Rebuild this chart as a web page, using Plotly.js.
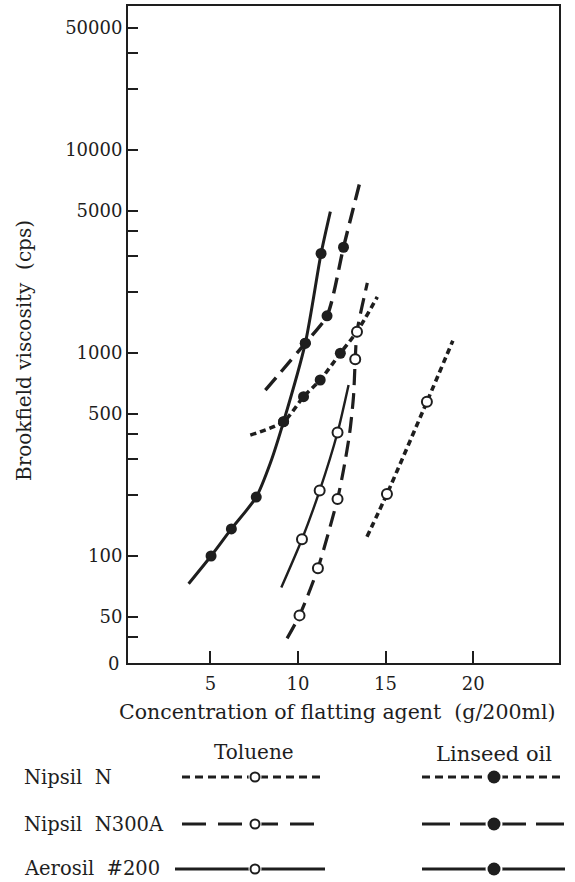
<!DOCTYPE html>
<html>
<head>
<meta charset="utf-8">
<script src="https://cdn.plot.ly/plotly-3.0.1.min.js"></script>
<style>html,body{margin:0;padding:0;background:#fff;}#chart{width:575px;height:882px;}</style>
</head>
<body>
<div id="chart"></div>
<script>
// ---- Data (x: g/200ml, y: cps) ----
// Aerosil #200 in linseed oil (solid, filled)
const aeroLinX = [5.04, 6.2, 7.62, 9.18, 10.42, 11.32];
const aeroLinY = [100, 136, 195, 459, 1118, 3090];
const aeroLinCurveX = [3.76, 5.04, 6.2, 7.62, 8.42, 9.18, 10.42, 11.32, 11.85];
const aeroLinCurveY = [73, 100, 136, 195, 286, 459, 1118, 3090, 4970];

// Nipsil N300A in linseed oil (long dash, filled)
const n300LinX = [10.42, 11.66, 12.6];
const n300LinY = [1118, 1525, 3317];
const n300LinCurveX = [8.14, 10.42, 11.66, 12.6, 13.52];
const n300LinCurveY = [656, 1118, 1525, 3317, 6855];

// Nipsil N in linseed oil (short dash, filled)
const nLinX = [9.18, 10.32, 11.27, 12.42];
const nLinY = [459, 609, 736, 997];
const nLinCurveX = [7.28, 9.18, 10.32, 11.27, 12.42, 13.37, 14.53];
const nLinCurveY = [394, 459, 609, 736, 997, 1274, 1888];

// Aerosil #200 in toluene (solid, open)
const aeroTolX = [10.23, 11.24, 12.26];
const aeroTolY = [121, 210, 406];
const aeroTolCurveX = [9.05, 10.23, 11.24, 12.26, 12.89];
const aeroTolCurveY = [70, 121, 210, 406, 696];

// Nipsil N300A in toluene (long dash, open)
const n300TolX = [10.09, 11.14, 12.26, 13.27, 13.37];
const n300TolY = [51, 87, 191, 931, 1272];
const n300TolCurveX = [9.38, 10.09, 11.14, 12.26, 12.6, 12.95, 13.17, 13.27, 13.37, 13.96];
const n300TolCurveY = [39.3, 51, 87, 191, 265, 402, 609, 931, 1272, 2213];

// Nipsil N in toluene (short dash, open)
const nTolX = [15.08, 17.36];
const nTolY = [202, 575];
const nTolCurveX = [13.94, 15.08, 17.36, 18.84];
const nTolCurveY = [124.5, 202, 575, 1149];

// Axis ticks (top tick sits where the reference draws its "50000" mark)
const xTickVals = [5, 10, 15, 20];
const yTickVals = [40, 50, 100, 200, 300, 400, 500, 1000, 2000, 3000, 4000, 5000, 10000, 20000, 30000, 40000];
const yTickText = [' ', '50', '100', ' ', ' ', ' ', '500', '1000', ' ', ' ', ' ', '5000', '10000', ' ', ' ', '50000'];

// Text
const xTitle = 'Concentration of flatting agent\u00a0\u00a0(g/200ml)';
const yTitle = 'Brookfield viscosity\u00a0\u00a0(cps)';
const solvents = ['Toluene', 'Linseed oil'];
const agents = ['Nipsil\u00a0\u00a0N', 'Nipsil\u00a0\u00a0N300A', 'Aerosil\u00a0\u00a0#200'];

// ---- Styles ----
const INK = '#1e1e1e';
const FONT = 'DejaVu Serif, Liberation Serif, serif';
const DASH_N = '6px,4px';
const DASH_N300 = '16px,8px';

function curve(x, y, dash, width) {
  return {x: x, y: y, mode: 'lines', type: 'scatter', hoverinfo: 'skip',
    line: {color: INK, width: width, dash: dash, shape: 'spline', smoothing: 0.7},
    showlegend: false};
}
function pts(x, y, filled) {
  return {x: x, y: y, mode: 'markers', type: 'scatter', showlegend: false,
    marker: {size: filled ? 11 : 10, color: filled ? INK : '#ffffff',
      line: {color: INK, width: filled ? 0 : 2}}};
}

const traces = [
  curve(aeroLinCurveX, aeroLinCurveY, 'solid', 3),
  curve(n300LinCurveX, n300LinCurveY, DASH_N300, 3.4),
  curve(nLinCurveX, nLinCurveY, DASH_N, 3.6),
  curve(aeroTolCurveX, aeroTolCurveY, 'solid', 2.4),
  curve(n300TolCurveX, n300TolCurveY, DASH_N300, 3.2),
  curve(nTolCurveX, nTolCurveY, DASH_N, 3.6),
  pts(aeroLinX, aeroLinY, true),
  pts(n300LinX, n300LinY, true),
  pts(nLinX, nLinY, true),
  pts(aeroTolX, aeroTolY, false),
  pts(n300TolX, n300TolY, false),
  pts(nTolX, nTolY, false)
];

// ---- Legend and titles placed in pixels (pixel -> paper helpers) ----
const L = 128, R = 559, T = 6, B = 663;
const px = v => (v - L) / (R - L);
const py = v => (B - v) / (B - T);

const shapes = [];
const annotations = [];
const rowY = [777, 824, 869];
const legCols = [{x0: 182, x1: 325, cx: 255, filled: false, r: 4.5},
                 {x0: 422, x1: 565, cx: 494, filled: true, r: 6.5}];
const legDash = [['8px,5px', '8px,5px'], ['24px,12px', '28px,10px'], ['solid', 'solid']];

function txt(x, y, text, size, anchor, angle) {
  annotations.push({xref: 'paper', yref: 'paper', x: px(x), y: py(y), text: text,
    showarrow: false, xanchor: anchor, yanchor: 'middle', textangle: angle || 0,
    font: {family: FONT, size: size, color: INK}});
}

txt(254, 752, solvents[0], 20, 'center');
txt(494, 754, solvents[1], 21, 'center');

agents.forEach((name, i) => {
  txt(22, rowY[i], name, 19.5, 'left');
  legCols.forEach((c, j) => {
    shapes.push({type: 'line', xref: 'paper', yref: 'paper',
      x0: px(i === 2 && j === 0 ? 175 : c.x0), x1: px(c.x1), y0: py(rowY[i]), y1: py(rowY[i]),
      line: {color: INK, width: 2.8, dash: legDash[i][j]}});
    shapes.push({type: 'circle', xref: 'paper', yref: 'paper',
      x0: px(c.cx - c.r - 2), x1: px(c.cx + c.r + 2), y0: py(rowY[i] + c.r + 2), y1: py(rowY[i] - c.r - 2),
      fillcolor: '#ffffff', line: {color: '#ffffff', width: 0}});
    shapes.push({type: 'circle', xref: 'paper', yref: 'paper',
      x0: px(c.cx - c.r), x1: px(c.cx + c.r), y0: py(rowY[i] + c.r), y1: py(rowY[i] - c.r),
      fillcolor: c.filled ? INK : '#ffffff', line: {color: INK, width: c.filled ? 0 : 2}});
  });
});

// axis titles and the "0" at the foot of the y axis
txt(337, 712, xTitle, 20.5, 'center');
txt(24, 351, yTitle, 20, 'center', -90);
txt(113, 663, '0', 18, 'center');

const layout = {
  width: 575, height: 882,
  margin: {l: L, r: 575 - R, t: T, b: 882 - B},
  paper_bgcolor: '#ffffff', plot_bgcolor: '#ffffff',
  showlegend: false,
  xaxis: {
    range: [0.3, 24.9], showgrid: false, zeroline: false,
    showline: true, linecolor: INK, linewidth: 2, mirror: true,
    ticks: 'inside', ticklen: 12, tickwidth: 2, tickcolor: INK,
    tickmode: 'array', tickvals: xTickVals, ticklabelstandoff: 3,
    tickfont: {family: FONT, size: 18, color: INK}
  },
  yaxis: {
    type: 'log', range: [1.473, 4.709], showgrid: false, zeroline: false,
    showline: true, linecolor: INK, linewidth: 2, mirror: true,
    ticks: 'inside', ticklen: 10, tickwidth: 2, tickcolor: INK,
    tickmode: 'array', tickvals: yTickVals, ticktext: yTickText,
    tickfont: {family: FONT, size: 18, color: INK}
  },
  shapes: shapes,
  annotations: annotations
};

Plotly.newPlot('chart', traces, layout, {displayModeBar: false, staticPlot: true});
</script>
</body>
</html>
